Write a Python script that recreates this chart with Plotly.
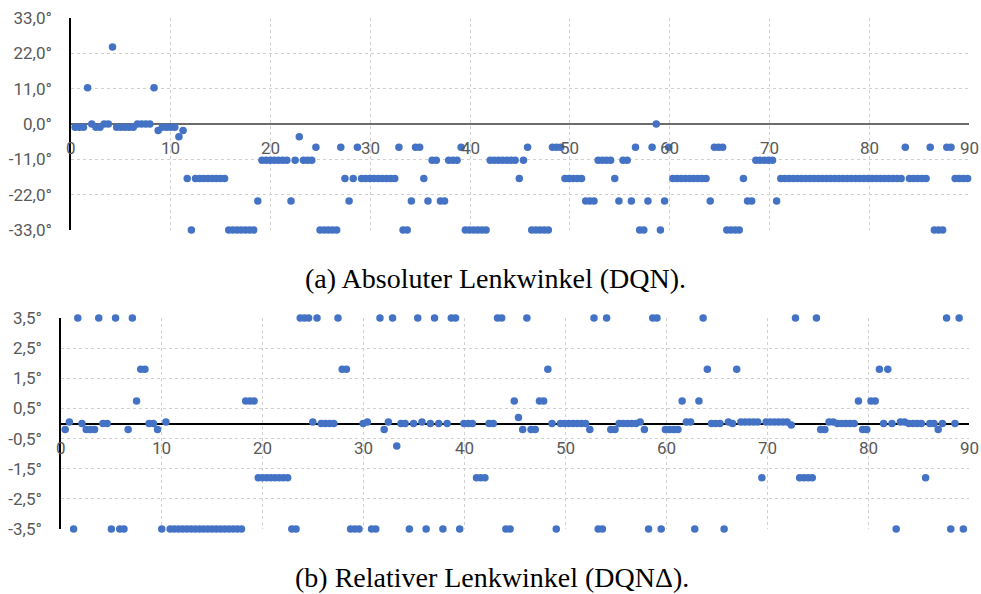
import plotly.graph_objects as go

# Sample interval of the logged episode (seconds per step)
STEP_S = 0.416

# Absolute steering angle per step, DQN agent (degrees)
abs_deg = [
    -1, -1, -1, 11.3, 0, -1, -1, 0, 0, 24,
    -1, -1, -1, -1, -1, 0, 0, 0, 0, 11.3,
    -2, -1, -1, -1, -1, -4, -2, -17, -33, -17,
    -17, -17, -17, -17, -17, -17, -17, -33, -33, -33,
    -33, -33, -33, -33, -24, -11.3, -11.3, -11.3, -11.3, -11.3,
    -11.3, -11.3, -24, -11.3, -4, -11.3, -11.3, -11.3, -7.2, -33,
    -33, -33, -33, -33, -7.2, -17, -24, -17, -7.2, -17,
    -17, -17, -17, -17, -17, -17, -17, -17, -7.2, -33,
    -33, -24, -7.2, -7.2, -17, -24, -11.3, -11.3, -24, -24,
    -11.3, -11.3, -11.3, -7.2, -33, -33, -33, -33, -33, -33,
    -11.3, -11.3, -11.3, -11.3, -11.3, -11.3, -11.3, -17, -11.3, -7.2,
    -33, -33, -33, -33, -33, -7.2, -7.2, -7.2, -17, -17,
    -17, -17, -17, -24, -24, -24, -11.3, -11.3, -11.3, -11.3,
    -17, -24, -11.3, -11.3, -24, -7.2, -33, -33, -24, -7.2,
    0, -33, -24, -7.2, -17, -17, -17, -17, -17, -17,
    -17, -17, -17, -24, -7.2, -7.2, -7.2, -33, -33, -33,
    -33, -17, -24, -24, -11.3, -11.3, -11.3, -11.3, -11.3, -24,
    -17, -17, -17, -17, -17, -17, -17, -17, -17, -17,
    -17, -17, -17, -17, -17, -17, -17, -17, -17, -17,
    -17, -17, -17, -17, -17, -17, -17, -17, -17, -17,
    -7.2, -17, -17, -17, -17, -17, -7.2, -33, -33, -33,
    -7.2, -7.2, -17, -17, -17, -17,
]

# Relative steering change per step, DQN-delta agent (degrees)
rel_deg = [
    -0.2, 0.05, -3.5, 3.5, 0, -0.2, -0.2, -0.2, 3.5, 0,
    0, -3.5, 3.5, -3.5, -3.5, -0.2, 3.5, 0.75, 1.8, 1.8,
    0, 0, -0.2, -3.5, 0.05, -3.5, -3.5, -3.5, -3.5, -3.5,
    -3.5, -3.5, -3.5, -3.5, -3.5, -3.5, -3.5, -3.5, -3.5, -3.5,
    -3.5, -3.5, -3.5, 0.75, 0.75, 0.75, -1.8, -1.8, -1.8, -1.8,
    -1.8, -1.8, -1.8, -1.8, -3.5, -3.5, 3.5, 3.5, 3.5, 0.05,
    3.5, 0, 0, 0, 0, 3.5, 1.8, 1.8, -3.5, -3.5,
    -3.5, 0, 0.05, -3.5, -3.5, 3.5, -0.2, 0.05, 3.5, -0.75,
    0, 0, -3.5, 0, 3.5, 0.05, -3.5, 0, 3.5, 0,
    -3.5, 0, 3.5, 3.5, -3.5, 0, 0, 0, -1.8, -1.8,
    -1.8, 0, 0, 3.5, 3.5, -3.5, -3.5, 0.75, 0.2, -0.2,
    3.5, -0.2, -0.2, 0.75, 0.75, 1.8, 0, -3.5, 0, 0,
    0, 0, 0, 0, 0, -0.2, 3.5, -3.5, -3.5, 3.5,
    -0.2, -0.2, 0, 0, 0, 0, 0, 0.05, -0.2, -3.5,
    3.5, 3.5, -3.5, -0.2, -0.2, -0.2, -0.2, 0.75, 0.05, 0.05,
    -3.5, 0.75, 3.5, 1.8, 0, 0, 0, -3.5, 0.05, 0,
    1.8, 0.05, 0.05, 0.05, 0.05, 0.05, -1.8, 0.05, 0.05, 0.05,
    0.05, 0.05, 0.05, -0.05, 3.5, -1.8, -1.8, -1.8, -1.8, 3.5,
    -0.2, -0.2, 0.05, 0.05, 0, 0, 0, 0, 0, 0.75,
    -0.2, -0.2, 0.75, 0.75, 1.8, 0, 1.8, 0, -3.5, 0.05,
    0.05, 0, 0, 0, 0, -1.8, 0, 0, -0.2, 0,
    3.5, -3.5, 0, 3.5, -3.5,
]

x_ticks = [0, 10, 20, 30, 40, 50, 60, 70, 80, 90]
abs_ticks = [-33, -22, -11, 0, 11, 22, 33]
abs_tick_text = ["-33,0°", "-22,0°", "-11,0°", "0,0°", "11,0°", "22,0°", "33,0°"]
rel_ticks = [-3.5, -2.5, -1.5, -0.5, 0.5, 1.5, 2.5, 3.5]
rel_tick_text = ["-3,5°", "-2,5°", "-1,5°", "-0,5°", "0,5°", "1,5°", "2,5°", "3,5°"]

caption_a = "(a) Absoluter Lenkwinkel (DQN)."
caption_b = "(b) Relativer Lenkwinkel (DQNΔ)."

W, H = 981, 594
BLUE = "#4472C4"
GRID = "#d0d0d0"
LABEL = "#595959"
TICK_FONT = dict(family="Roboto", size=17, color=LABEL)
XLAB_FONT = dict(family="Roboto", size=17, color=LABEL)
CAPTION_FONT = dict(family="Liberation Serif", size=28, color="black")

t_abs = [STEP_S * (k + 1) for k in range(len(abs_deg))]
t_rel = [STEP_S * (k + 1) for k in range(len(rel_deg))]

fig = go.Figure()
fig.add_trace(go.Scatter(
    x=t_abs, y=abs_deg, mode="markers", xaxis="x", yaxis="y",
    marker=dict(color=BLUE, size=7.5), cliponaxis=False, showlegend=False,
))
fig.add_trace(go.Scatter(
    x=t_rel, y=rel_deg, mode="markers", xaxis="x2", yaxis="y2",
    marker=dict(color=BLUE, size=7.5), cliponaxis=False, showlegend=False,
))


def px_x(p):
    return p / W


def px_y(p):
    return 1 - p / H


common_x = dict(
    range=[0, 90], tickvals=x_ticks, showticklabels=False, ticks="",
    showgrid=True, gridcolor=GRID, griddash="dot", gridwidth=1,
    zeroline=False, showline=False, automargin=False,
)

fig.update_layout(
    width=W, height=H,
    margin=dict(l=0, r=0, t=0, b=0, autoexpand=False),
    paper_bgcolor="white", plot_bgcolor="white",
    xaxis=dict(domain=[px_x(71), px_x(969)], anchor="y", **common_x),
    yaxis=dict(
        domain=[px_y(230), px_y(18)], anchor="x", range=[-33, 33],
        tickvals=abs_ticks, ticktext=abs_tick_text, tickfont=TICK_FONT,
        ticks="", ticklabelstandoff=14, automargin=False,
        showgrid=True, gridcolor=GRID, griddash="dot", gridwidth=1,
        zeroline=True, zerolinecolor="#6b6b6b", zerolinewidth=2,
        showline=True, linecolor="black", linewidth=1.5,
    ),
    xaxis2=dict(domain=[px_x(61), px_x(969)], anchor="y2", **common_x),
    yaxis2=dict(
        domain=[px_y(529), px_y(318)], anchor="x2", range=[-3.5, 3.5],
        tickvals=rel_ticks, ticktext=rel_tick_text, tickfont=TICK_FONT,
        ticks="", ticklabelstandoff=14, automargin=False,
        showgrid=True, gridcolor=GRID, griddash="dot", gridwidth=1,
        zeroline=True, zerolinecolor="black", zerolinewidth=1.5,
        showline=True, linecolor="black", linewidth=1.5,
    ),
)

# Category labels sit on the zero line, as in the spreadsheet layout
annotations = []
for xr, yr in (("x", "y"), ("x2", "y2")):
    for v in x_ticks:
        annotations.append(dict(
            x=v, y=0, xref=xr, yref=yr, text=str(v), showarrow=False,
            xanchor="center", yanchor="middle", yshift=-24, font=XLAB_FONT,
        ))

annotations.append(dict(
    x=px_x(495), y=px_y(278), xref="paper", yref="paper", text=caption_a,
    showarrow=False, xanchor="center", yanchor="middle", font=CAPTION_FONT,
))
annotations.append(dict(
    x=px_x(492), y=px_y(577), xref="paper", yref="paper", text=caption_b,
    showarrow=False, xanchor="center", yanchor="middle", font=CAPTION_FONT,
))
fig.update_layout(annotations=annotations)

fig.write_html("out.html")
